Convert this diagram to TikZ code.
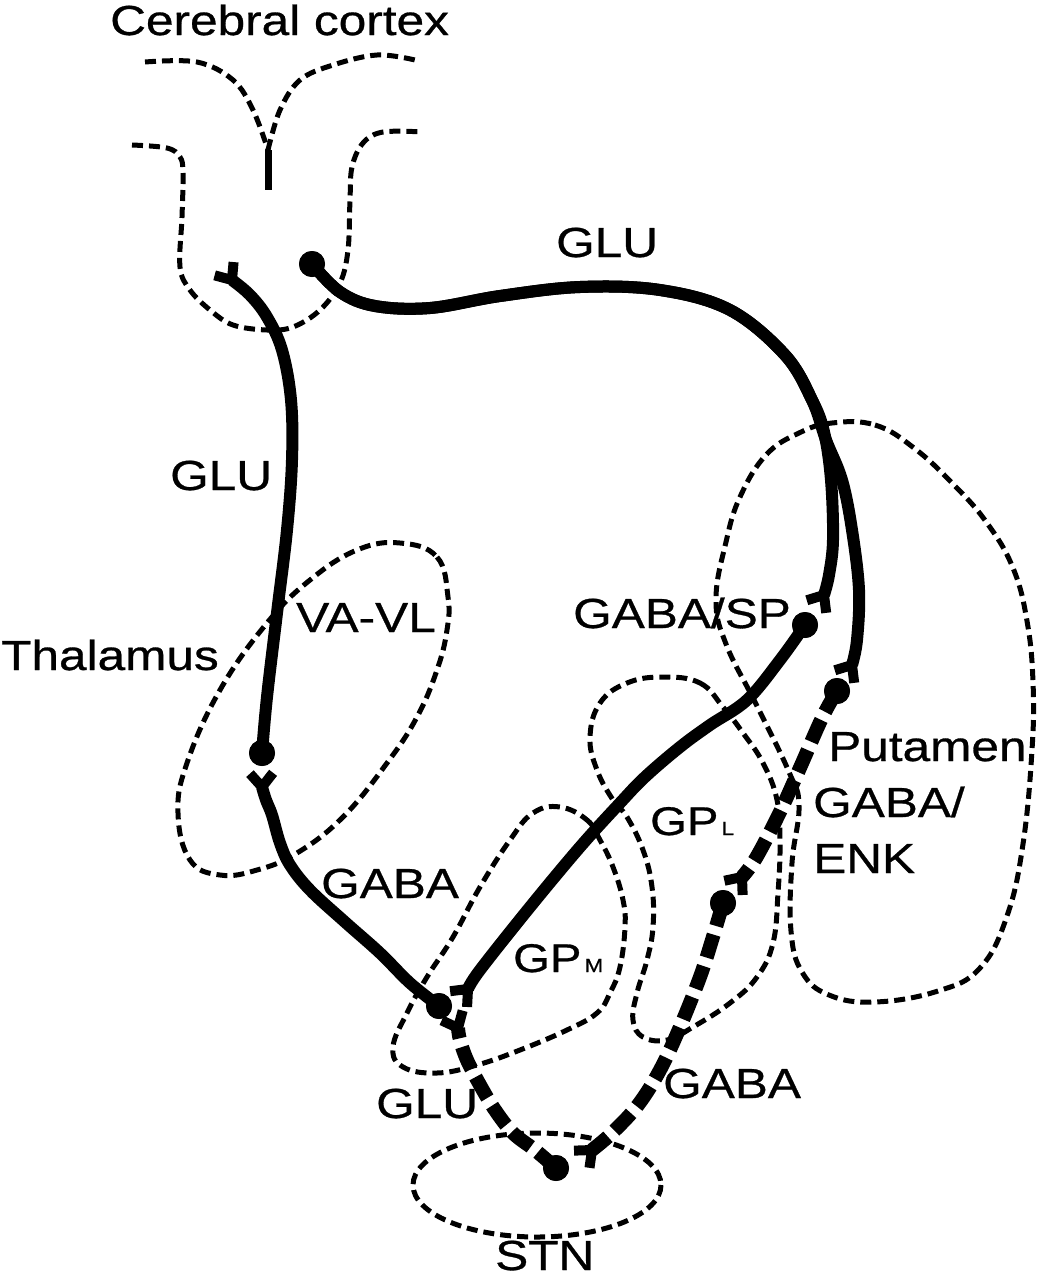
\documentclass[tikz,border=0pt]{standalone}
\usepackage{fontspec}
\newfontfamily\labfont[FakeStretch=1.18,FakeBold=0.7]{Liberation Sans}
\begin{document}
\begin{tikzpicture}[x=1pt,y=-1pt,
  outl/.style={line width=5pt, dash pattern=on 11pt off 6pt},
  axon/.style={line width=12pt},
  daxon/.style={line width=14pt, dash pattern=on 24pt off 9pt},
  yarm/.style={line width=10pt},
  soma/.style={circle, fill=black, inner sep=0pt, minimum size=26pt},
  lab/.style={font=\labfont\fontsize{42}{48}\selectfont, inner sep=0pt, anchor=base west},
  sublab/.style={font=\labfont\fontsize{40}{48}\selectfont, inner sep=0pt, anchor=base west},
  yterm/.pic={\draw[yarm] (0,0) -- (40:18) (0,0) -- (-40:18);}
]
\useasboundingbox (0,0) rectangle (1042,1280);

% ---------- outlines ----------
% cerebral cortex
\draw[outl] plot[smooth,tension=0.6] coordinates {(145,62) (197,62) (233,80) (253,110) (268,150)};
\draw[outl] plot[smooth,tension=0.6] coordinates {(268,150) (280,110) (300,80) (333,65) (377,55) (415,60)};
\draw[line width=7pt] (268,150) -- (268,190);
\draw[outl] plot[smooth,tension=0.6] coordinates {(132,145) (167,148) (180,157) (183,173) (182,217) (180,267) (190,290) (210,310) (233,325) (267,330) (293,327) (320,310) (340,283) (348,250) (350,200) (352,167) (363,143) (383,132) (423,132)};
% thalamus
\draw[outl] plot[smooth cycle,tension=0.7] coordinates {(400,543) (437,557) (448,597) (447,630) (437,670) (417,717) (387,763) (343,817) (297,853) (257,870) (220,875) (190,860) (178,813) (187,763) (220,690) (267,623) (310,580) (357,550)};
% putamen
\draw[outl] plot[smooth cycle,tension=0.7] coordinates {(832,423) (875,425) (914,448) (954,485) (987,523) (1013,568) (1027,621) (1033,682) (1032,750) (1023,844) (1007,916) (980,968) (938,991) (875,1002) (829,995) (802,972) (791,931) (792,863) (799,806) (789,772) (756,704) (726,644) (716,599) (726,542) (740,497) (766,455) (799,433)};
% GP lateral
\draw[outl] plot[smooth cycle,tension=0.7] coordinates {(663,677) (700,683) (723,707) (743,733) (763,763) (777,800) (780,843) (778,893) (773,943) (757,977) (730,1003) (693,1027) (667,1040) (643,1037) (633,1020) (637,993) (647,960) (653,927) (652,887) (643,850) (627,817) (613,800) (597,770) (590,737) (600,703) (627,683)};
% GP medial
\draw[outl] plot[smooth cycle,tension=0.7] coordinates {(560,807) (587,820) (600,840) (613,867) (623,900) (625,927) (620,967) (610,993) (597,1013) (567,1030) (520,1050) (477,1065) (437,1073) (403,1067) (393,1047) (407,1013) (427,977) (453,937) (480,887) (510,840) (533,813)};
% STN
\draw[outl] (537,1185) ellipse [x radius=124, y radius=52];

% ---------- somata ----------
\node[soma] (dctx) at (312,264) {};
\node[soma] (dthal) at (262,753) {};
\node[soma] (dgpm) at (439,1006) {};
\node[soma] (dsp) at (805,625) {};
\node[soma] (denk) at (837,691) {};
\node[soma] (dgpl) at (723,903) {};
\node[soma] (dstn) at (556,1168) {};

% ---------- terminals ----------
\coordinate (yctx) at (232,280);
\coordinate (ythal) at (262,787);
\coordinate (ygpma) at (468,989);
\coordinate (ygpmb) at (458,1028);
\coordinate (yputa) at (824,595);
\coordinate (yputb) at (852,665);
\coordinate (ygpl) at (742,877);
\coordinate (ystn) at (592,1150);

% ---------- axons ----------
% cortex -> putamen (GLU), two branches
\draw[axon] plot[smooth,tension=0.6] coordinates {(dctx.center) (340,292) (375,306) (430,308) (500,296) (580,287) (660,290) (730,310) (785,355) (812,400) (824,432) (831,480) (833,540) (829,575) (yputa)};
\draw[axon] plot[smooth,tension=0.6] coordinates {(dctx.center) (340,292) (375,306) (430,308) (500,296) (580,287) (660,290) (730,310) (785,355) (812,400) (826,440) (842,480) (852,530) (859,590) (857,640) (yputb)};
\pic[rotate=237] at (yputa) {yterm};
\pic[rotate=237] at (yputb) {yterm};
% thalamus -> cortex (GLU)
\draw[axon] plot[smooth,tension=0.6] coordinates {(dthal.center) (267,697) (277,613) (287,530) (292,460) (291,400) (282,350) (267,317) (250,295) (yctx)};
\pic[rotate=125] at (yctx) {yterm};
% GPm -> thalamus (GABA)
\draw[axon] plot[smooth,tension=0.6] coordinates {(dgpm.center) (410,983) (380,953) (345,922) (310,890) (290,865) (280,843) (272,815) (266,800) (ythal)};
\pic[rotate=92] at (ythal) {yterm};
% putamen GABA/SP -> GPm
\draw[axon] plot[smooth,tension=0.6] coordinates {(dsp.center) (780,660) (747,700) (710,725) (680,747) (645,777) (620,803) (580,847) (530,907) (480,970) (ygpma)};
\pic[rotate=227] at (ygpma) {yterm};
% putamen GABA/ENK -> GPl
\draw[daxon] plot[smooth,tension=0.6] coordinates {(denk.center) (822,718) (799,770) (779,814) (756,858) (ygpl)};
\pic[rotate=232] at (ygpl) {yterm};
% GPl -> STN
\draw[daxon] plot[smooth,tension=0.6] coordinates {(dgpl.center) (712,940) (700,977) (680,1027) (660,1070) (638,1105) (612,1133) (ystn)};
\pic[rotate=222] at (ystn) {yterm};
% STN -> GPm (GLU)
\draw[daxon] plot[smooth,tension=0.6] coordinates {(dstn.center) (535,1150) (513,1133) (495,1110) (480,1085) (467,1060) (460,1040) (ygpmb)};
\pic[rotate=115] at (ygpmb) {yterm};

% redraw somata on top
\foreach \n in {dctx,dthal,dgpm,dsp,denk,dgpl,dstn} \fill (\n.center) circle (13pt);

% ---------- labels ----------
\node[lab] (tctx) at (110,35) {Cerebral cortex};
\node[lab] (tglu1) at (556,257) {GLU};
\node[lab] (tglu2) at (170,490) {GLU};
\node[lab] (tvavl) at (296,632) {VA-VL};
\node[lab] (tthal) at (1,670) {Thalamus};
\node[lab] (tsp) at (573,628) {GABA/SP};
\node[lab] (tput) at (828,761) {Putamen};
\node[lab] (tenk1) at (813,817) {GABA/};
\node[lab] (tenk2) at (813,873) {ENK};
\node[sublab] (tgpl) at (650,835) {GP{\fontsize{19}{20}\selectfont\,L}};
\node[lab] (tgaba1) at (321,898) {GABA};
\node[sublab] (tgpm) at (513,972) {GP{\fontsize{19}{20}\selectfont\,M}};
\node[lab] (tglu3) at (376,1118) {GLU};
\node[lab] (tgaba2) at (663,1098) {GABA};
\node[lab] (tstn) at (495,1270) {STN};
\end{tikzpicture}
\end{document}
